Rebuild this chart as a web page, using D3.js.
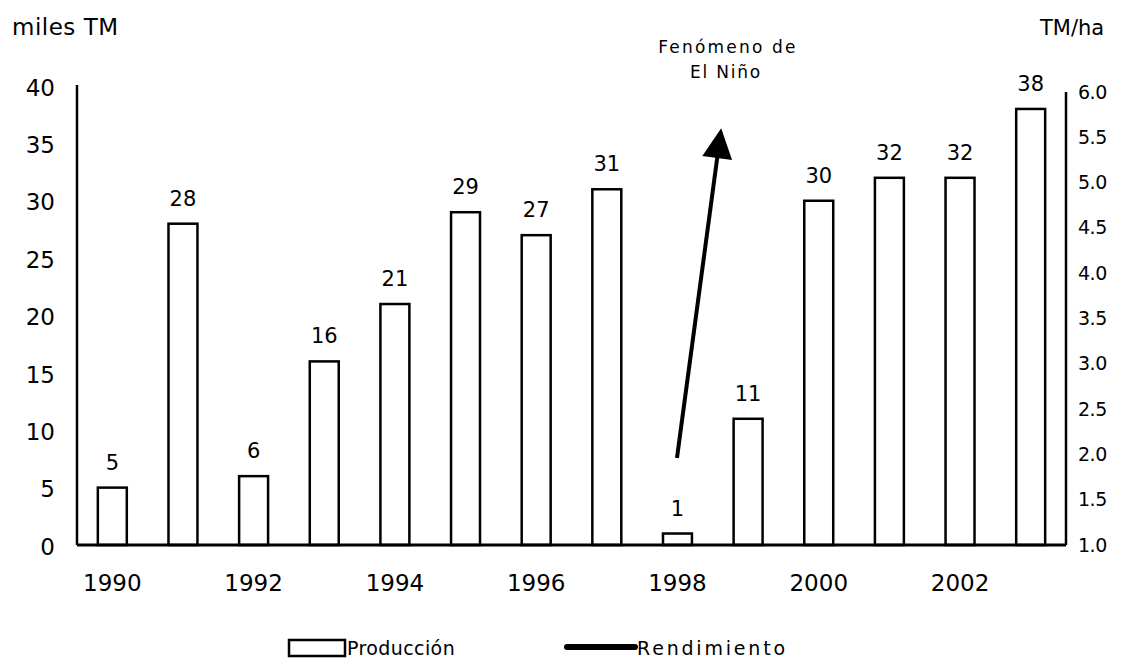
<!DOCTYPE html>
<html>
<head>
<meta charset="utf-8">
<script src="https://cdn.jsdelivr.net/npm/d3@7"></script>
<style>
  html, body { margin: 0; padding: 0; background: #fff; }
  svg { display: block; font-family: "DejaVu Sans", Verdana, sans-serif; }
</style>
</head>
<body>
<svg id="chart" width="1131" height="663"></svg>
<script>
// Producción (miles TM) por año
const years = [1990, 1991, 1992, 1993, 1994, 1995, 1996, 1997, 1998, 1999, 2000, 2001, 2002, 2003];
const produccion = [5, 28, 6, 16, 21, 29, 27, 31, 1, 11, 30, 32, 32, 38];
const leftTicks = [0, 5, 10, 15, 20, 25, 30, 35, 40];
const rightTicks = [1.0, 1.5, 2.0, 2.5, 3.0, 3.5, 4.0, 4.5, 5.0, 5.5, 6.0];
const yearLabels = [1990, 1992, 1994, 1996, 1998, 2000, 2002];
const seriesNames = ["Producción", "Rendimiento"];

const svg = d3.select("#chart");
const plotLeft = 77, plotRight = 1066, plotTop = 86, plotBottom = 545;

const x = d3.scaleBand().domain(years).range([plotLeft, plotRight]).paddingInner(0.59).paddingOuter(0.295);
const y = d3.scaleLinear().domain([0, 40]).range([plotBottom, plotTop]);
const y2 = d3.scaleLinear().domain([1.0, 6.0]).range([plotBottom, plotTop + 6]);

// Left axis
const gl = svg.append("g").attr("transform", `translate(${plotLeft},0)`)
  .call(d3.axisLeft(y).tickValues(leftTicks).tickSize(0).tickPadding(22).tickFormat(d3.format("d")));
gl.select(".domain").remove();
gl.selectAll("text").attr("font-size", 23).attr("fill", "#000").attr("font-family", "DejaVu Sans")
  .attr("dy", "0.4em");
svg.append("line").attr("x1", plotLeft).attr("x2", plotLeft).attr("y1", plotTop - 1).attr("y2", plotBottom)
  .attr("stroke", "#000").attr("stroke-width", 2.5);

// Right axis
const gr = svg.append("g").attr("transform", `translate(${plotRight},0)`)
  .call(d3.axisRight(y2).tickValues(rightTicks).tickSize(0).tickPadding(12).tickFormat(d3.format(".1f")));
gr.select(".domain").remove();
gr.selectAll("text").attr("font-size", 19).attr("fill", "#000").attr("font-family", "DejaVu Sans")
  .attr("letter-spacing", -0.5);
svg.append("line").attr("x1", plotRight).attr("x2", plotRight).attr("y1", plotTop + 6).attr("y2", plotBottom)
  .attr("stroke", "#000").attr("stroke-width", 2.5);

// Bottom axis (year labels every two years)
const gb = svg.append("g").attr("transform", `translate(0,${plotBottom})`)
  .call(d3.axisBottom(x).tickValues(yearLabels).tickSize(0).tickPadding(30));
gb.select(".domain").remove();
gb.selectAll("text").attr("font-size", 23).attr("fill", "#000").attr("font-family", "DejaVu Sans");

// Bars
svg.append("g").selectAll("rect").data(years).join("rect")
  .attr("x", d => x(d))
  .attr("width", x.bandwidth())
  .attr("y", (d, i) => y(produccion[i]))
  .attr("height", (d, i) => plotBottom - y(produccion[i]))
  .attr("fill", "#fff").attr("stroke", "#000").attr("stroke-width", 2.5);

// Baseline
svg.append("line").attr("x1", plotLeft).attr("x2", plotRight).attr("y1", plotBottom).attr("y2", plotBottom)
  .attr("stroke", "#000").attr("stroke-width", 3);

// Value labels
svg.append("g").selectAll("text").data(years).join("text")
  .attr("x", d => x(d) + x.bandwidth() / 2)
  .attr("y", (d, i) => y(produccion[i]) - 18)
  .attr("text-anchor", "middle").attr("font-size", 21).attr("fill", "#000")
  .text((d, i) => produccion[i]);

// Axis titles
svg.append("text").attr("x", 12).attr("y", 35).attr("font-size", 23).attr("letter-spacing", 0.5).text("miles TM");
svg.append("text").attr("x", 1040).attr("y", 35).attr("font-size", 21).text("TM/ha");

// Annotation: El Niño arrow
const defs = svg.append("defs");
defs.append("marker").attr("id", "head").attr("viewBox", "0 0 10 10")
  .attr("refX", 2).attr("refY", 5).attr("markerWidth", 8).attr("markerHeight", 7.5)
  .attr("markerUnits", "strokeWidth").attr("orient", "auto")
  .append("path").attr("d", "M0,0 L10,5 L0,10 Z").attr("fill", "#000");
svg.append("line")
  .attr("x1", x(1998) + x.bandwidth() / 2 - 0.5).attr("y1", 458)
  .attr("x2", 718).attr("y2", 152)
  .attr("stroke", "#000").attr("stroke-width", 4)
  .attr("marker-end", "url(#head)");
svg.append("text").attr("x", 728).attr("y", 53).attr("text-anchor", "middle")
  .attr("font-size", 17).attr("letter-spacing", 2.2).text("Fenómeno de");
svg.append("text").attr("x", 726).attr("y", 78).attr("text-anchor", "middle")
  .attr("font-size", 17).attr("letter-spacing", 1.8).text("El Niño");

// Legend
const lg = svg.append("g");
lg.append("rect").attr("x", 289).attr("y", 640).attr("width", 56).attr("height", 16)
  .attr("fill", "#fff").attr("stroke", "#000").attr("stroke-width", 2.5);
lg.append("text").attr("x", 347).attr("y", 655).attr("font-size", 19).attr("letter-spacing", 0.4).text(seriesNames[0]);
lg.append("line").attr("x1", 567).attr("x2", 635).attr("y1", 647).attr("y2", 647)
  .attr("stroke", "#000").attr("stroke-width", 6).attr("stroke-linecap", "round");
lg.append("text").attr("x", 637).attr("y", 655).attr("font-size", 19).attr("letter-spacing", 2.8).text(seriesNames[1]);
</script>
</body>
</html>
